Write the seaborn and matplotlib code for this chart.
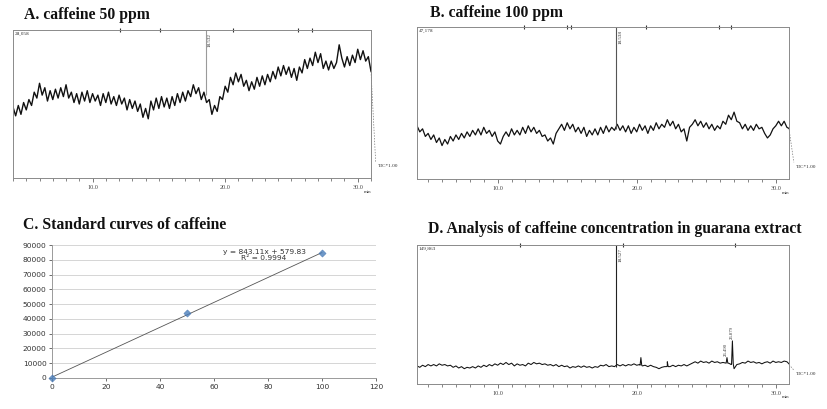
import numpy as np
import pandas as pd
import matplotlib
matplotlib.use("Agg")
import matplotlib.pyplot as plt
import matplotlib.transforms as mtransforms
from matplotlib.ticker import MultipleLocator, FixedLocator, FuncFormatter
import seaborn as sns

sns.set_theme(style="white")
plt.rcParams['font.family'] = ['Liberation Serif', 'DejaVu Serif']

# ---------------- data ----------------
titles = ["A. caffeine 50 ppm", "B. caffeine 100 ppm",
          "C. Standard curves of caffeine",
          "D. Analysis of caffeine concentration in guarana extract"]

# chromatogram A (relative signal, % of full scale), sampled every 0.2 min from 4.0 min
A_start = 4.0
A_signal = [48, 42, 49, 43, 51, 46, 53, 49, 58, 54, 64, 56, 61, 52, 59, 53, 60, 54, 61, 55,
            63, 54, 58, 51, 57, 50, 58, 52, 59, 51, 57, 52, 56, 49, 57, 51, 58, 50, 55, 49,
            56, 50, 54, 46, 53, 47, 52, 45, 50, 41, 47, 40, 52, 46, 54, 47, 55, 48, 54, 47,
            55, 49, 57, 51, 58, 52, 59, 55, 63, 57, 61, 53, 58, 51, 53, 43, 49, 45, 55, 53,
            62, 58, 68, 63, 71, 65, 70, 62, 66, 59, 65, 60, 68, 62, 69, 63, 70, 65, 72, 67,
            75, 69, 76, 70, 75, 68, 74, 66, 75, 71, 80, 74, 81, 76, 85, 78, 84, 74, 79, 73,
            79, 74, 78, 90, 81, 75, 82, 76, 83, 78, 87, 80, 86, 79, 82, 72]
A_peak_t = [18.53]
A_peak_base = [56]
A_peak_label = ["18.532"]
A_max_label = "28,058"
A_events = [12.04, 15.06, 20.57, 25.47, 26.53]

# chromatogram B, sampled every 0.2 min from 4.2 min
B_start = 4.2
B_signal = [35, 31, 33, 28, 30, 26, 29, 24, 27, 22, 26, 23, 28, 25, 29, 26, 30, 27, 31, 28,
            32, 29, 33, 29, 34, 30, 32, 28, 31, 25, 23, 28, 31, 28, 33, 29, 32, 29, 34, 30,
            35, 31, 34, 30, 32, 28, 29, 25, 27, 23, 30, 33, 36, 32, 37, 33, 36, 31, 34, 30,
            34, 28, 32, 29, 33, 29, 34, 30, 35, 31, 34, 32, 36, 32, 35, 31, 35, 30, 34, 31,
            36, 32, 35, 30, 35, 32, 37, 33, 36, 34, 39, 35, 38, 33, 36, 31, 33, 25, 34, 36,
            39, 35, 38, 34, 37, 33, 36, 32, 35, 33, 38, 36, 42, 39, 44, 38, 37, 33, 36, 32,
            35, 32, 36, 33, 34, 30, 27, 29, 33, 35, 38, 35, 38, 34, 33]
B_peak_t = [18.53]
B_peak_base = [33]
B_peak_label = ["18.538"]
B_max_label = "47,178"
B_events = [11.9, 15.0, 15.3, 20.7, 25.9, 26.8]

# standard curve C
C_conc = [0, 50, 100]
C_area = [0, 43895, 84311]
C_equation = "y = 843.11x + 579.83"
C_r2 = "R² = 0.9994"

# chromatogram D, sampled every 0.2 min from 4.2 min
D_start = 4.2
D_signal = [13, 12, 13.5, 12.5, 14, 13, 14, 13, 14.5, 13.5, 14, 13, 13.5, 12, 13, 11.5, 12.5, 11, 12, 11.5,
            12.5, 11.5, 13, 12, 13.5, 12.5, 14, 13, 14.5, 13.5, 15, 14, 15.5, 14, 15, 13, 14.5, 13.5, 14, 13,
            15, 14, 15.5, 14.5, 15, 14, 14.5, 13.5, 14, 13, 14, 12.5, 13.5, 12.5, 13, 11.5, 12.5, 12, 13, 12,
            13, 12, 12.5, 11.5, 12.5, 12, 13.5, 13, 14, 12.5, 13, 12.5, 14, 13, 14, 13, 14, 13.5, 14.5, 13.5,
            14, 13, 13.5, 12.5, 13.5, 12.5, 12, 11, 12, 12.5, 13, 12.5, 13.5, 12.5, 13.5, 13, 14, 13, 14, 15,
            16, 15, 16.5, 15.5, 16, 15, 16.5, 15.5, 16, 15, 15.5, 15, 15, 14, 11, 14, 14.5, 15.5, 15, 16.5,
            15.5, 16, 15, 15.5, 14.5, 15.5, 16, 15, 16.5, 15.5, 16, 15.5, 16.5, 16, 14]
D_small_t = [20.30, 22.20, 26.49, 26.88]
D_small_base = [13.5, 12.5, 15, 14.5]
D_small_apex = [19, 16, 19, 31]
D_small_label = ["", "", "26.490", "26.879"]
D_peak_t = [18.53]
D_peak_base = [12]
D_peak_label = ["18.527"]
D_max_label = "149,863"
D_events = [11.6, 19.0, 27.1]

STEP = 0.2

# ---------------- figure ----------------
W, H = 827, 409
fig = plt.figure(figsize=(W / 100, H / 100), dpi=100)


def px_axes(l, t, r, b):
    return fig.add_axes([l / W, 1 - b / H, (r - l) / W, (b - t) / H])


def chromatogram(ax, start, signal, peak_t, peak_base, peak_label, peak_color,
                 max_label, xlim, events, tic_xy, lw, small=None):
    t = start + STEP * np.arange(len(signal))
    df = pd.DataFrame({"time": t, "signal": signal})
    if small is not None:
        st, sb, sa = small
        w = 0.06
        extra = pd.DataFrame({
            "time": np.concatenate([np.array(st) - w, np.array(st), np.array(st) + w]),
            "signal": np.concatenate([sb, sa, sb])})
        df = pd.concat([df, extra]).sort_values("time")
    df = df[(df.time >= xlim[0] - 0.01)]
    sns.lineplot(data=df, x="time", y="signal", ax=ax, color="#111111", lw=lw,
                 estimator=None, sort=True)
    ax.vlines(peak_t, peak_base, 100, color=peak_color, lw=0.8)
    for pt, lab in zip(peak_t, peak_label):
        ax.text(pt + 0.18, 98, lab, rotation=90, va="top", ha="left", fontsize=3.6,
                color="#333")
    ax.set_xlim(*xlim)
    ax.set_ylim(0, 100)
    ax.set_xlabel("")
    ax.set_ylabel("")
    ax.set_yticks([])
    ax.xaxis.set_major_locator(FixedLocator([10, 20, 30]))
    ax.xaxis.set_major_formatter(FuncFormatter(lambda v, p: f"{v:.1f}"))
    ax.xaxis.set_minor_locator(MultipleLocator(1))
    ax.tick_params(axis="x", which="major", length=3, width=0.5, labelsize=4.4,
                   pad=2, colors="#444", bottom=True)
    ax.tick_params(axis="x", which="minor", length=1.8, width=0.5, colors="#555",
                   bottom=True)
    for s in ax.spines.values():
        s.set_color("#8a8a8a")
        s.set_linewidth(0.7)
    ax.text(0.004, 0.985, max_label, transform=ax.transAxes, va="top", ha="left",
            fontsize=3.8, color="#333")
    ax.text(0.99, -0.095, "min", transform=ax.transAxes, va="center", ha="center",
            fontsize=3.6, color="#333")
    # event marks on top border
    trans = mtransforms.blended_transform_factory(ax.transData, ax.transAxes)
    ax.vlines(events, 0.985, 1.012, transform=trans, color="#333", lw=0.8, clip_on=False)
    # TIC drop line and label
    end_y = signal[-1] / 100
    ax.plot([1.0, tic_xy[0] - 0.005], [end_y, tic_xy[1] + 0.03], transform=ax.transAxes,
            ls=(0, (2, 2)), lw=0.5, color="#777", clip_on=False)
    ax.text(tic_xy[0], tic_xy[1], "TIC*1.00", transform=ax.transAxes, va="center",
            ha="left", fontsize=3.8, color="#333")


axA = px_axes(13, 30, 371, 178)
chromatogram(axA, A_start, A_signal, A_peak_t, A_peak_base, A_peak_label, "#9a9a9a",
             A_max_label, (4.0, 31.0), A_events, (1.018, 0.08), lw=1.0)

axB = px_axes(417, 27, 789, 179)
chromatogram(axB, B_start, B_signal, B_peak_t, B_peak_base, B_peak_label, "#555555",
             B_max_label, (4.2, 30.95), B_events, (1.018, 0.08), lw=0.9)

axD = px_axes(417, 245, 789, 384)
chromatogram(axD, D_start, D_signal, D_peak_t, D_peak_base, D_peak_label, "#222222",
             D_max_label, (4.2, 30.95), D_events, (1.018, 0.07), lw=0.75,
             small=(D_small_t, D_small_base, D_small_apex))
for st, sa, lab in zip(D_small_t, D_small_apex, D_small_label):
    if lab:
        axD.text(st - 0.05, sa + 1.5, lab, rotation=90, va="bottom", ha="center",
                 fontsize=3.4, color="#333")

# standard curve
axC = px_axes(52, 245, 376, 378)
dfC = pd.DataFrame({"conc": C_conc, "area": C_area})
sns.regplot(data=dfC, x="conc", y="area", ax=axC, ci=None, marker="D",
            scatter_kws=dict(s=14, color="#4a7ebb", clip_on=False, zorder=5,
                             edgecolor="#3a6aa8", linewidths=0.3),
            line_kws=dict(color="#555555", lw=0.6))
axC.set_xlim(0, 120)
axC.set_ylim(0, 90000)
axC.set_xticks(np.arange(0, 121, 20))
axC.set_yticks(np.arange(0, 90001, 10000))
axC.set_xlabel("")
axC.set_ylabel("")
axC.yaxis.grid(True, color="#cfcfcf", lw=0.6)
axC.set_axisbelow(True)
for side in ["top", "right"]:
    axC.spines[side].set_visible(False)
for side in ["left", "bottom"]:
    axC.spines[side].set_color("#9a9a9a")
    axC.spines[side].set_linewidth(0.7)
axC.tick_params(axis="both", labelsize=5.4, colors="#333", length=2, width=0.5,
                pad=2, left=True, bottom=True)
for lab in axC.get_xticklabels() + axC.get_yticklabels():
    lab.set_family(["DejaVu Sans"])
axC.text(78.5, 85300, C_equation, ha="center", va="center", fontsize=5.4,
         color="#333", family=["DejaVu Sans"])
axC.text(78.5, 81300, C_r2, ha="center", va="center", fontsize=5.4,
         color="#333", family=["DejaVu Sans"])

# titles
title_pos = [(24, 15), (430, 13), (23, 225), (428, 229)]
for txt, (x, y) in zip(titles, title_pos):
    fig.text(x / W, 1 - y / H, txt, ha="left", va="center", fontsize=11.3,
             fontweight="bold", color="#111")

fig.savefig("out.png", dpi=100)
